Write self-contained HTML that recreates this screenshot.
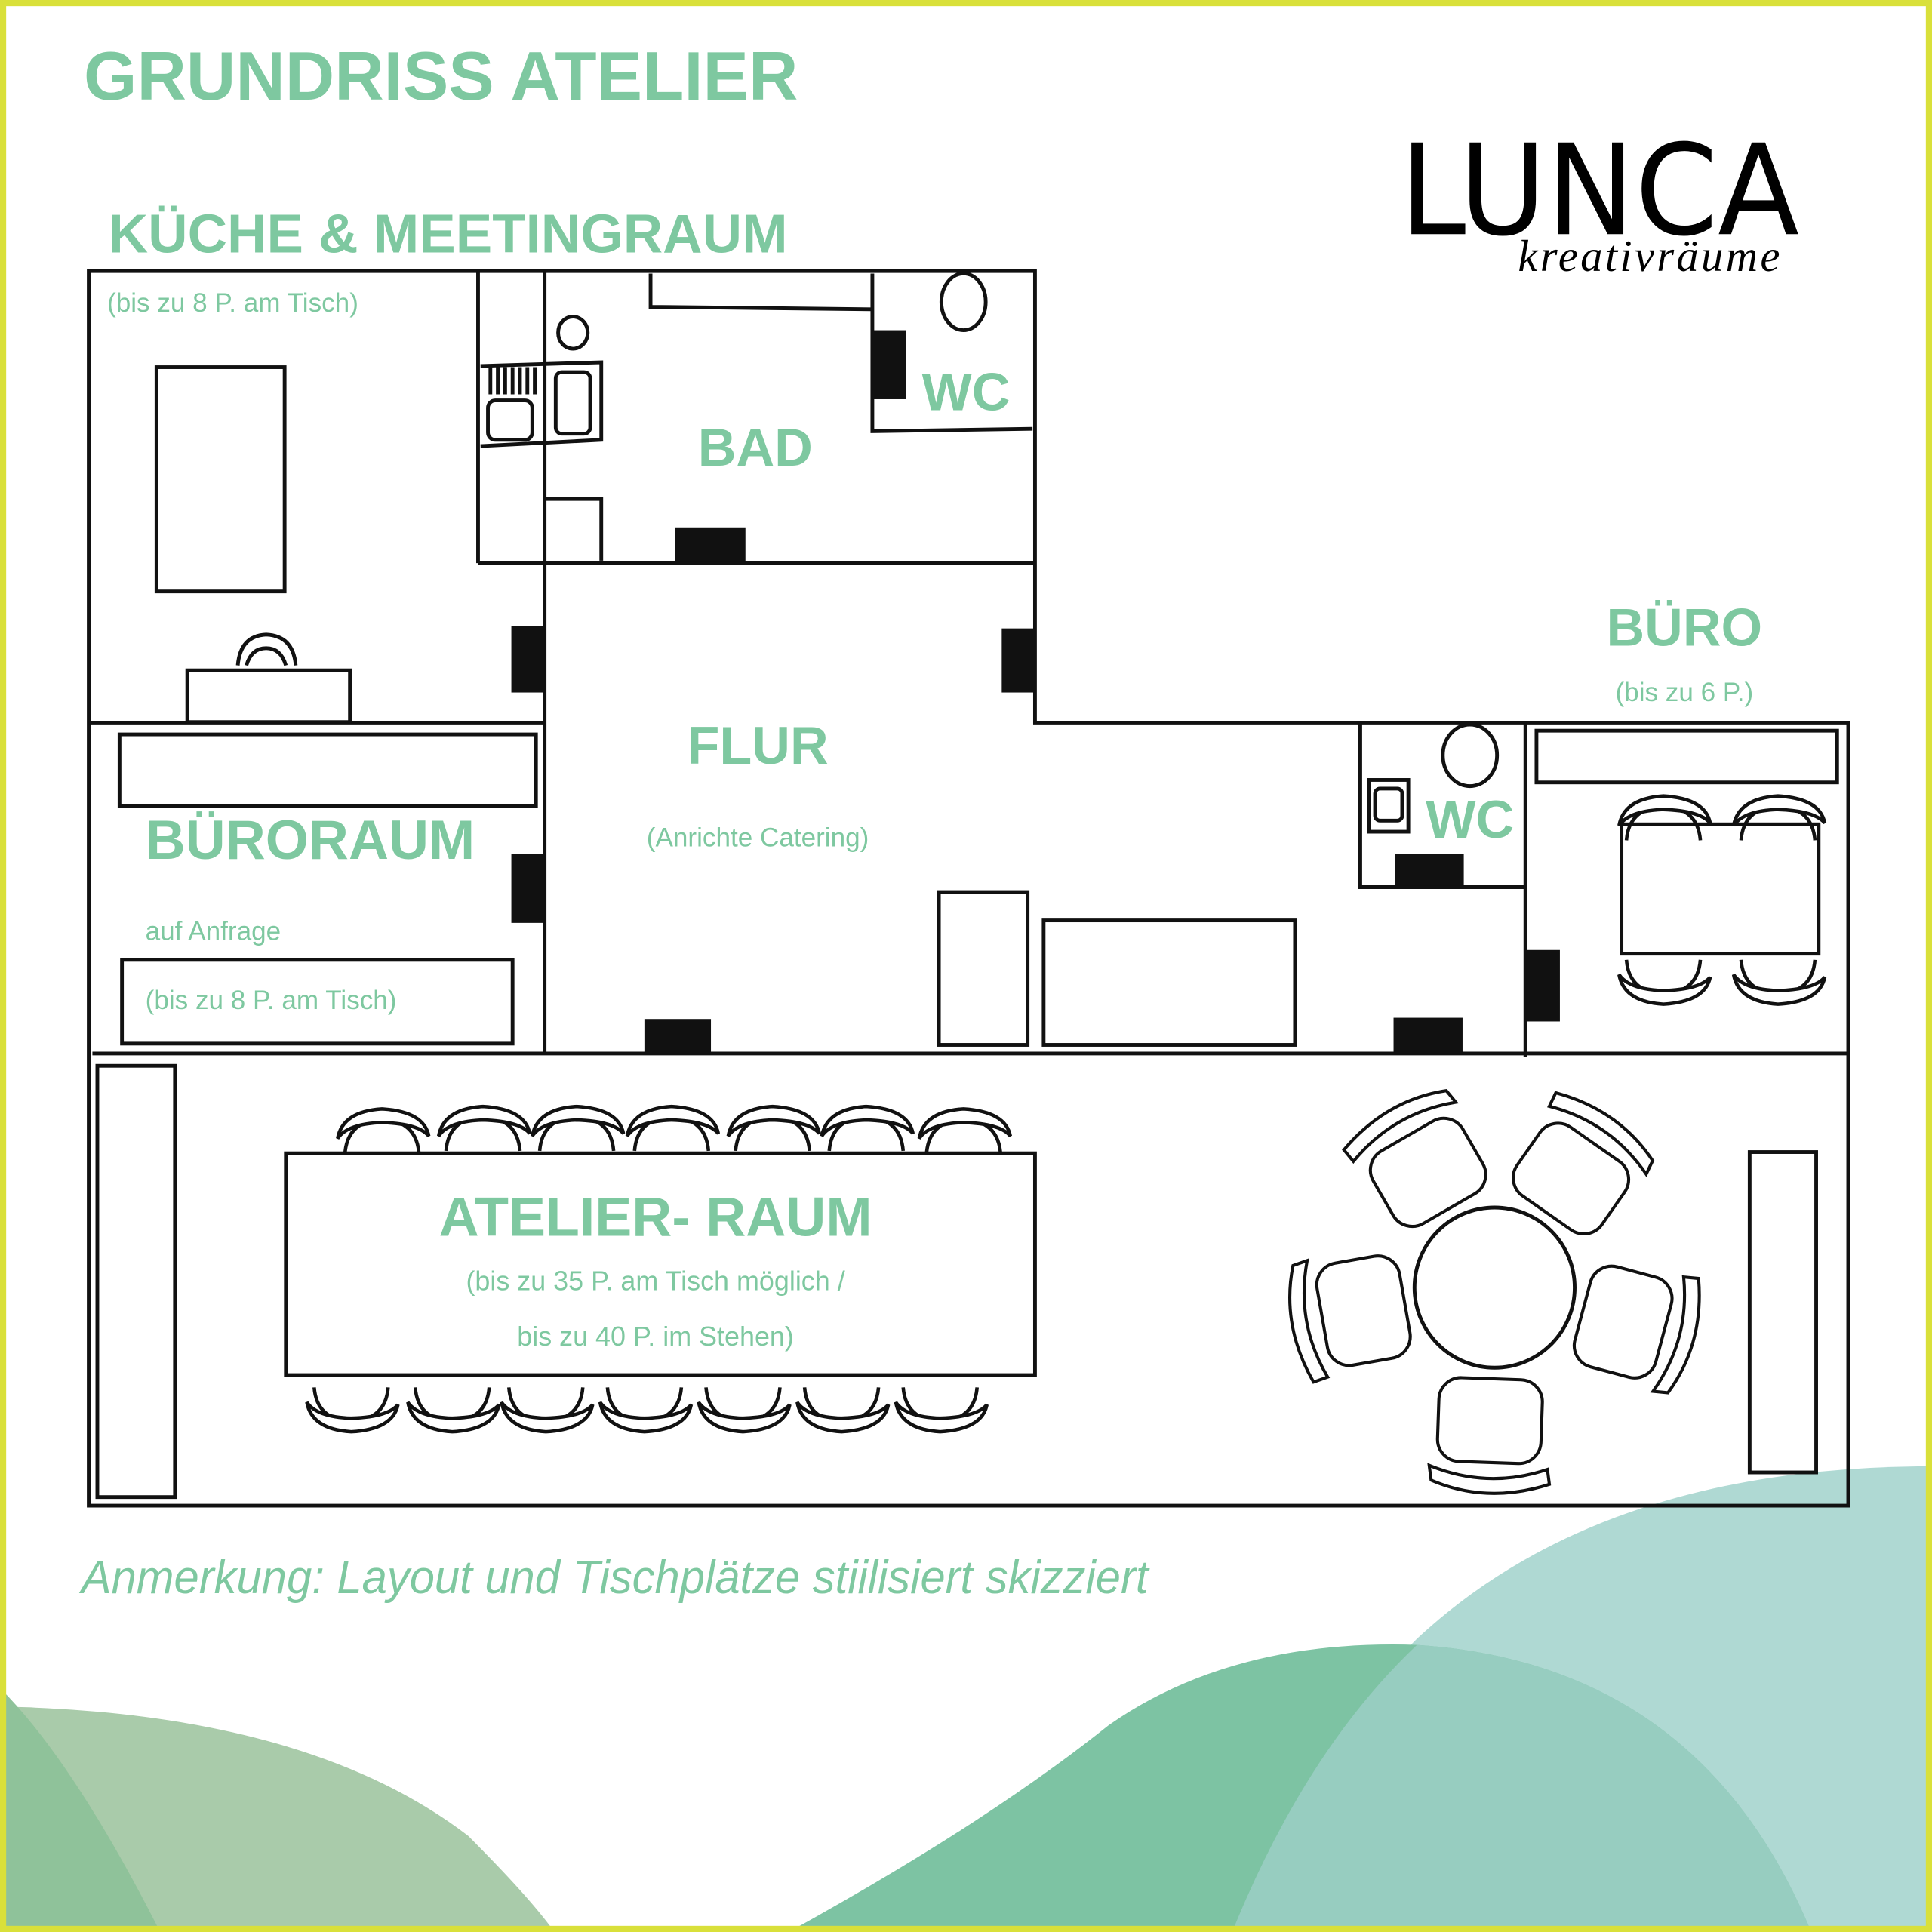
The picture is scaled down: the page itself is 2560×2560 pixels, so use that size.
<!DOCTYPE html>
<html><head><meta charset="utf-8"><style>
html,body{margin:0;padding:0;background:#fff}
svg{display:block}
</style></head><body>
<svg width="2560" height="2560" viewBox="0 0 1568 1568" xmlns="http://www.w3.org/2000/svg">
<defs>
<g id="ch"><path d="M-30,12 Q-28,-14 0,-16 Q28,-14 30,12" fill="none" stroke="#111" stroke-width="2.8"/><path d="M-36,0 Q-32,-22 0,-24 Q34,-22 38,-2 Q30,-12 0,-13 Q-28,-12 -36,0Z" fill="#fff" stroke="#111" stroke-width="2.8"/></g>
<g id="lc"><rect x="-42" y="-142" width="84" height="68" rx="18" fill="#fff" stroke="#111" stroke-width="2.5"/><path d="M-48,-146 Q0,-164 48,-146 L46,-158 Q0,-176 -50,-158Z" fill="#fff" stroke="#111" stroke-width="2.5"/></g>
</defs>
<rect width="1568" height="1568" fill="#fff"/>
<path d="M0,1385 Q250,1390 380,1490 Q430,1540 450,1568 L0,1568Z" fill="#a9cbaa"/>
<path d="M0,1370 Q60,1430 130,1568 L0,1568Z" fill="#8fc29a"/>
<path d="M1568,1190 Q1300,1190 1150,1330 Q1020,1460 950,1568 L1568,1568Z" fill="#afd9d3"/>
<path d="M640,1568 Q800,1480 900,1400 Q1000,1330 1150,1335 Q1380,1350 1470,1568Z" fill="#7dc3a3"/>
<path d="M1150,1335 Q1380,1350 1470,1568 L1000,1568 Q1060,1420 1150,1335Z" fill="#97cdc0"/>
<rect x="2.5" y="2.5" width="1563" height="1563" fill="none" stroke="#d9e03a" stroke-width="5"/>
<g font-family="Liberation Sans, sans-serif" fill="#7ec8a0">
<text x="68" y="81" font-size="55.5" font-weight="bold">GRUNDRISS ATELIER</text>
<text x="88" y="205" font-size="44.5" font-weight="bold">KÜCHE &amp; MEETINGRAUM</text>
<text x="87" y="253" font-size="21.5">(bis zu 8 P. am Tisch)</text>
<text x="613" y="378" font-size="43" font-weight="bold" text-anchor="middle">BAD</text>
<text x="784" y="333" font-size="43" font-weight="bold" text-anchor="middle">WC</text>
<text x="615" y="620" font-size="43" font-weight="bold" text-anchor="middle">FLUR</text>
<text x="615" y="687" font-size="21.5" text-anchor="middle">(Anrichte Catering)</text>
<text x="118" y="697" font-size="45" font-weight="bold">BÜRORAUM</text>
<text x="118" y="763" font-size="21.5">auf Anfrage</text>
<text x="118" y="819" font-size="21.5">(bis zu 8 P. am Tisch)</text>
<text x="1367" y="524" font-size="43" font-weight="bold" text-anchor="middle">BÜRO</text>
<text x="1367" y="569" font-size="21.5" text-anchor="middle">(bis zu 6 P.)</text>
<text x="1193" y="680" font-size="43" font-weight="bold" text-anchor="middle">WC</text>
<text x="532" y="1003" font-size="45" font-weight="bold" text-anchor="middle">ATELIER- RAUM</text>
<text x="532" y="1047" font-size="22" text-anchor="middle">(bis zu 35 P. am Tisch möglich /</text>
<text x="532" y="1092" font-size="22" text-anchor="middle">bis zu 40 P. im Stehen)</text>
<text x="66" y="1293" font-size="38" font-style="italic" transform="translate(66 0) scale(0.963 1) translate(-66 0)">Anmerkung: Layout und Tischplätze stiilisiert skizziert</text>
</g>
<text x="1136" y="190" font-family="DejaVu Sans Condensed, Liberation Sans Narrow, sans-serif" font-size="102" fill="#000" transform="translate(1136 0) scale(1.05 1) translate(-1136 0)">LUNCA</text>
<text x="1232" y="220" font-family="Liberation Serif, serif" font-style="italic" font-size="36" fill="#000" letter-spacing="2">kreativräume</text>
<g fill="none" stroke="#111" stroke-width="3">
<path d="M72,220 L840,220 L840,587 L1500,587 L1500,1222 L72,1222 Z"/>
<line x1="72" y1="587" x2="442" y2="587"/>
<line x1="442" y1="220" x2="442" y2="855"/>
<line x1="388" y1="220" x2="388" y2="457"/>
<line x1="388" y1="457" x2="840" y2="457"/>
<line x1="75" y1="855" x2="1500" y2="855"/>
<line x1="1238" y1="587" x2="1238" y2="858"/>
<path d="M1104,587 L1104,720 L1238,720"/>
<path d="M708,222 L708,350 L838,348"/>
<path d="M528,222 L528,249 L708,251"/>
<path d="M443,405 L488,405 L488,455"/>
<rect x="127" y="298" width="104" height="182"/>
<rect x="152" y="544" width="132" height="42"/>
<path d="M193,540 Q195,516 216,515 Q238,516 240,540 M200,540 Q204,526 216,526 Q228,526 232,540"/>
<rect x="97" y="596" width="338" height="58"/>
<rect x="99" y="779" width="317" height="68"/>
<rect x="762" y="724" width="72" height="124"/>
<rect x="847" y="747" width="204" height="101"/>
<rect x="1247" y="593" width="244" height="42"/>
<rect x="1316" y="669" width="160" height="105"/>
<rect x="232" y="936" width="608" height="180"/>
<rect x="79" y="865" width="63" height="350"/>
<rect x="1420" y="935" width="54" height="260"/>
<ellipse cx="465" cy="270" rx="12" ry="13"/>
<ellipse cx="782" cy="245" rx="18" ry="23"/>
<ellipse cx="1193" cy="613" rx="22" ry="25"/>
<path d="M390,297 L488,294 L488,357 L390,362"/>
<rect x="396" y="325" width="36" height="32" rx="6"/>
<rect x="451" y="302" width="28" height="50" rx="5"/>
<path d="M398,298 V320 M404,298 V320 M410,298 V320 M416,298 V320 M422,298 V320 M428,298 V320 M434,298 V320"/>
<rect x="1111" y="633" width="32" height="42"/>
<rect x="1116" y="640" width="22" height="26" rx="4"/>
</g>
<g fill="#111">
<rect x="708" y="268" width="27" height="56"/>
<rect x="548" y="428" width="57" height="28"/>
<rect x="415" y="508" width="27" height="54"/>
<rect x="813" y="510" width="27" height="52"/>
<rect x="415" y="693" width="27" height="56"/>
<rect x="523" y="827" width="54" height="28"/>
<rect x="1132" y="693" width="56" height="26"/>
<rect x="1131" y="826" width="56" height="29"/>
<rect x="1239" y="771" width="27" height="58"/>
</g>
<g>
<use href="#ch" x="310" y="924"/><use href="#ch" x="392" y="922"/><use href="#ch" x="468" y="922"/><use href="#ch" x="545" y="922"/><use href="#ch" x="627" y="922"/><use href="#ch" x="703" y="922"/><use href="#ch" x="782" y="924"/>
<g transform="translate(0 2232) scale(1 -1)"><use href="#ch" x="285" y="1094"/><use href="#ch" x="367" y="1094"/><use href="#ch" x="443" y="1094"/><use href="#ch" x="523" y="1094"/><use href="#ch" x="603" y="1094"/><use href="#ch" x="683" y="1094"/><use href="#ch" x="763" y="1094"/></g>
<g transform="translate(0 1444) scale(1 -1)"><use href="#ch" x="1350" y="653"/><use href="#ch" x="1443" y="653"/></g>
<use href="#ch" x="1350" y="670"/><use href="#ch" x="1443" y="670"/>
</g>
<g transform="translate(1213 1045)">
<use href="#lc" transform="rotate(-30)"/>
<use href="#lc" transform="rotate(35)"/>
<use href="#lc" transform="rotate(-100)"/>
<use href="#lc" transform="rotate(105)"/>
<use href="#lc" transform="rotate(182)"/>
<circle cx="0" cy="0" r="65" fill="#fff" stroke="#111" stroke-width="3"/>
</g>
</svg>
</body></html>
